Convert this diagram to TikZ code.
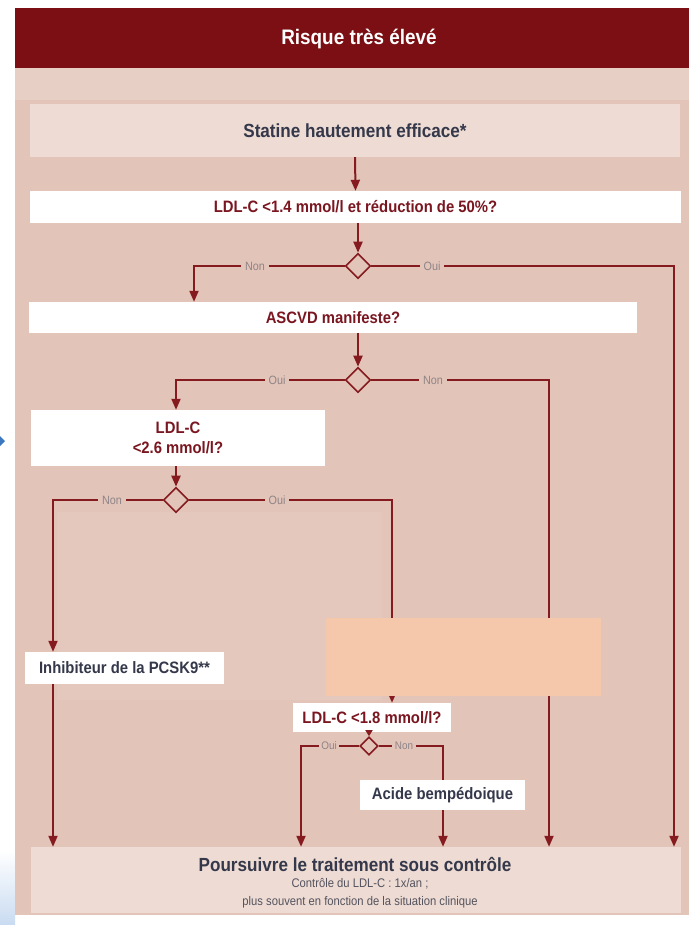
\documentclass[tikz,border=0pt]{standalone}
\usepackage{fontspec}
\setmainfont{Liberation Sans}
\newfontfamily\condfont{Liberation Sans}[FakeStretch=0.9]
\usetikzlibrary{arrows.meta,shapes.geometric,calc}

\definecolor{panelbg}{HTML}{E2C4B9}
\definecolor{bandbg}{HTML}{E8CFC5}
\definecolor{softbg}{HTML}{EEDCD4}
\definecolor{headred}{HTML}{7B0F13}
\definecolor{linered}{HTML}{851A1F}
\definecolor{qred}{HTML}{7A1620}
\definecolor{inkgray}{HTML}{34384A}
\definecolor{taggray}{HTML}{8F8487}
\definecolor{peach}{HTML}{F5C8AB}
\definecolor{edgeblue}{HTML}{3B78C0}
\definecolor{hazeblue}{HTML}{C9DBF1}

\begin{document}
\begin{tikzpicture}[x=1pt,y=-1pt,
  link/.style={draw=linered,line width=2pt},
  flow/.style={link,-{Triangle[length=11pt,width=9pt]}},
  shortflow/.style={link,-{Triangle[length=6pt,width=7pt]}},
  qbox/.style={rectangle,fill=white,inner sep=0pt,text=qred,align=center,
    font=\condfont\bfseries\fontsize{16.5}{20}\selectfont},
  abox/.style={rectangle,fill=white,inner sep=0pt,text=inkgray,align=center,
    font=\condfont\bfseries\fontsize{16.5}{20}\selectfont},
  choice/.style={diamond,aspect=1,draw=linered,line width=1.6pt,fill=panelbg,
    minimum width=25pt,minimum height=25pt,inner sep=0pt},
  smallchoice/.style={choice,minimum width=18pt,minimum height=18pt},
  tag/.style={fill=panelbg,inner sep=4pt,text=taggray,
    font=\condfont\fontsize{12}{14}\selectfont}
]
\useasboundingbox (0,0) rectangle (689,925);
\fill[white] (0,0) rectangle (689,925);

% side artefacts of the page
\shade[top color=white,bottom color=hazeblue] (0,850) rectangle (15,925);
\fill[edgeblue] (0,436) -- (5,441) -- (0,446) -- cycle;

% panel, header and background bands
\fill[panelbg] (15,8) rectangle (689,915);
\fill[bandbg] (15,68) rectangle (689,100);
\fill[headred] (15,8) rectangle (689,68);
\fill[bandbg!40!panelbg] (57,512) rectangle (382,700);
\node[text=white,font=\condfont\bfseries\fontsize{21}{25}\selectfont] (title) at (359,39) {Risque très élevé};

% boxes
\node[rectangle,fill=softbg,minimum width=650pt,minimum height=53pt,inner sep=0pt,
  text=inkgray,font=\condfont\bfseries\fontsize{19}{23}\selectfont] (statin) at (355,130.5) {Statine hautement efficace*};
\node[qbox,minimum width=651pt,minimum height=32pt] (goal) at (355.5,207) {LDL-C <1.4 mmol/l et réduction de 50\%?};
\node[qbox,minimum width=608pt,minimum height=31pt] (ascvd) at (333,317.5) {ASCVD manifeste?};
\node[qbox,minimum width=294pt,minimum height=56pt] (ldl26) at (178,438) {LDL-C\\<2.6 mmol/l?};
\node[abox,minimum width=199pt,minimum height=32pt] (pcsk) at (124.5,668) {Inhibiteur de la PCSK9**};
\node[qbox,minimum width=158pt,minimum height=29pt] (ldl18) at (372,717.5) {LDL-C <1.8 mmol/l?};
\node[abox,minimum width=165pt,minimum height=30pt] (bemp) at (442.5,795) {Acide bempédoique};
\node[rectangle,fill=softbg,minimum width=650pt,minimum height=66pt,inner sep=0pt] (final) at (356,880) {};
\node[text=inkgray,font=\condfont\bfseries\fontsize{19}{23}\selectfont] (finaltitle) at (355,864) {Poursuivre le traitement sous contrôle};
\node[text=inkgray!65!taggray,align=center,font=\condfont\fontsize{12.5}{18}\selectfont] (finalnote) at (360,893)
  {Contrôle du LDL-C : 1x/an ;\\plus souvent en fonction de la situation clinique};

% decision diamonds
\node[choice] (d1) at (358,266) {};
\node[choice] (d2) at (358,380) {};
\node[choice] (d3) at (176,500) {};
\node[smallchoice] (d4) at (369,746) {};

% turning points
\coordinate (d1l) at (194,266);
\coordinate (d1r) at (674,266);
\coordinate (d2l) at (176,380);
\coordinate (d2r) at (549,380);
\coordinate (d3l) at (53,500);
\coordinate (d3r) at (392,500);
\coordinate (d4l) at (301,746);
\coordinate (d4r) at (443,746);

% connectors
\draw[flow] (statin.south) -- (goal.north);
\draw[flow] (goal.south -| d1) -- (d1.north);
\draw[flow] (d1.west) -- (d1l) -- (ascvd.north -| d1l);
\draw[flow] (d1.east) -- (d1r) -- (final.north -| d1r);
\draw[flow] (ascvd.south -| d2) -- (d2.north);
\draw[flow] (d2.west) -- (d2l) -- (ldl26.north -| d2l);
\draw[flow] (d2.east) -- (d2r) -- (final.north -| d2r);
\draw[flow] (ldl26.south -| d3) -- (d3.north);
\draw[flow] (d3.west) -- (d3l) -- (pcsk.north -| d3l);
\draw[flow] (pcsk.south -| d3l) -- (final.north -| d3l);
\draw[flow] (d3.east) -- (d3r) -- (ldl18.north -| d3r);
\draw[shortflow] (ldl18.south -| d4) -- (d4.north);
\draw[flow] (d4.west) -- (d4l) -- (final.north -| d4l);
\draw[link] (d4.east) -- (d4r) -- (bemp.north -| d4r);
\draw[flow] (bemp.south -| d4r) -- (final.north -| d4r);

% branch labels
\node[tag] (t1n) at (255,266) {Non};
\node[tag] (t1o) at (432,266) {Oui};
\node[tag] (t2o) at (277,380) {Oui};
\node[tag] (t2n) at (433,380) {Non};
\node[tag] (t3n) at (112,500) {Non};
\node[tag] (t3o) at (277,500) {Oui};
\node[tag,inner sep=2.5pt,font=\condfont\fontsize{11}{13}\selectfont] (t4o) at (329,746) {Oui};
\node[tag,inner sep=2.5pt,font=\condfont\fontsize{11}{13}\selectfont] (t4n) at (404,746) {Non};

% overlay patch
\fill[peach] (326,618) rectangle (601,696);
\end{tikzpicture}
\end{document}
